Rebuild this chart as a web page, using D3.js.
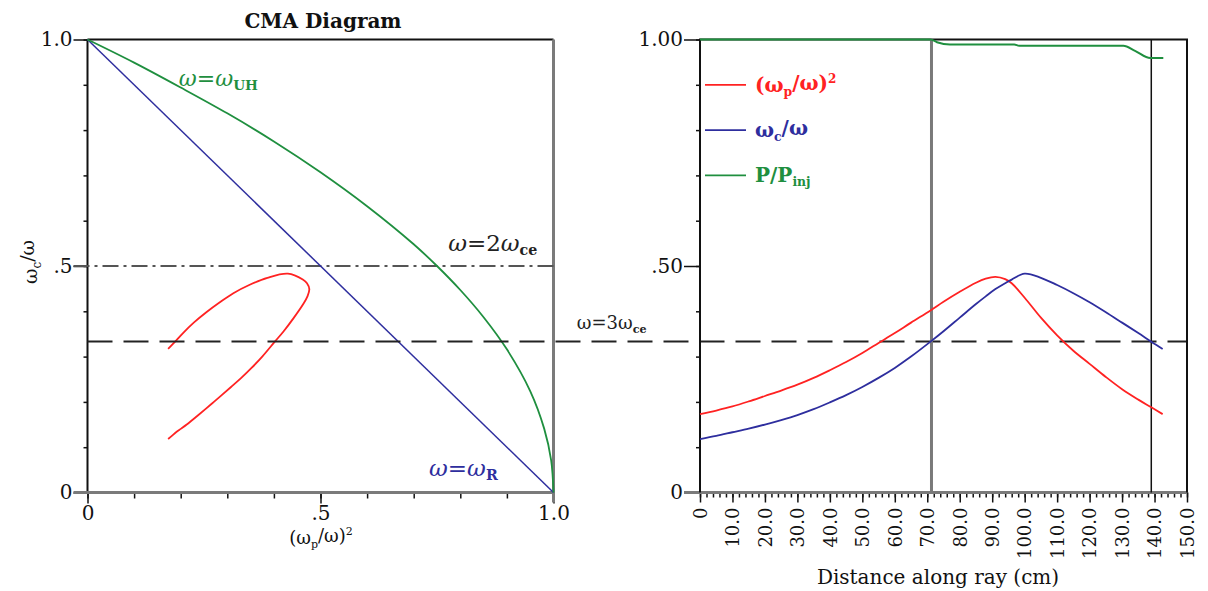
<!DOCTYPE html>
<html>
<head>
<meta charset="utf-8">
<script src="https://cdn.jsdelivr.net/npm/d3@7"></script>
<style>
  body { margin: 0; background: #fff; }
  svg { display: block; }
  text { font-family: "DejaVu Serif", "Liberation Serif", serif; }
</style>
</head>
<body>
<svg id="chart" width="1208" height="591"></svg>
<script>
// ray data
const rayDist = [0, 5, 10, 15, 20, 25, 30, 35, 40, 45, 50, 55, 60, 65, 71, 75, 80, 85, 88, 91, 94, 96, 100, 105, 110, 115, 120, 125, 130, 135, 139, 142.5];
const rayWpSq = [0.173, 0.181, 0.19, 0.201, 0.213, 0.225, 0.238, 0.253, 0.27, 0.288, 0.308, 0.33, 0.352, 0.375, 0.402, 0.421, 0.443, 0.463, 0.472, 0.476, 0.471, 0.462, 0.43, 0.386, 0.347, 0.313, 0.284, 0.255, 0.228, 0.205, 0.188, 0.173];
const rayWc = [0.118, 0.125, 0.133, 0.141, 0.15, 0.16, 0.171, 0.184, 0.199, 0.215, 0.233, 0.253, 0.275, 0.3, 0.333, 0.356, 0.386, 0.416, 0.433, 0.449, 0.462, 0.47, 0.483, 0.474, 0.458, 0.44, 0.42, 0.398, 0.375, 0.352, 0.333, 0.317];

// power fraction
const powDist = [0, 71, 73, 77, 96.8, 98.3, 130.4, 134, 138.7, 142.7];
const powFrac = [1, 1, 0.994, 0.989, 0.989, 0.986, 0.986, 0.975, 0.959, 0.959];

// CMA boundaries
const uhX = [0, 0.1, 0.2, 0.3, 0.4, 0.5, 0.6, 0.7, 0.75, 0.8, 0.85, 0.9, 0.95, 0.98, 0.995, 1.0];
const uhY = [1.0, 0.949, 0.894, 0.837, 0.775, 0.707, 0.632, 0.548, 0.5, 0.447, 0.387, 0.316, 0.224, 0.141, 0.071, 0.0];
const rX = [0, 1];
const rY = [1, 0];
const harm2 = 0.5;
const harm3 = 1 / 3;
const rayMarks = [71.3, 139];

const leftTicksX = [0, 0.5, 1];
const leftTickLabels = ["0", ".5", "1.0"];
const rightTicksY = [0, 0.5, 1];
const rightTickLabels = ["0", ".50", "1.00"];

const RED = "#ff2222", BLUE = "#2e2e9e", GREEN = "#1f8f3f", GRAY = "#7a7a7a";

const svg = d3.select("#chart");

const xL = d3.scaleLinear().domain([0, 1]).range([87.5, 553.5]);
const yL = d3.scaleLinear().domain([0, 1]).range([492.5, 39.5]);
const xR = d3.scaleLinear().domain([0, 150]).range([700, 1187]);
const yR = d3.scaleLinear().domain([0, 1]).range([492.5, 39.5]);

const minor01 = d3.range(0, 11).map(d => d / 10);

function styleAxis(g) {
  g.select(".domain").remove();
  g.selectAll("line").attr("stroke", "#111").attr("stroke-width", 1.5);
  g.selectAll("text").attr("fill", "#111").style("font-family", "'DejaVu Serif', serif");
}

// ---------- left panel ----------
const left = svg.append("g");

left.append("g").attr("transform", `translate(0,${yL(0)})`)
  .call(d3.axisBottom(xL).tickValues(minor01).tickSize(6).tickFormat(""))
  .call(styleAxis);
left.append("g").attr("transform", `translate(0,${yL(0)})`)
  .call(d3.axisBottom(xL).tickValues(leftTicksX).tickSize(11).tickPadding(2)
    .tickFormat((d, i) => leftTickLabels[i]))
  .call(styleAxis)
  .selectAll("text").style("font-size", "20px");

left.append("g").attr("transform", `translate(${xL(0)},0)`)
  .call(d3.axisLeft(yL).tickValues(minor01).tickSize(4).tickFormat(""))
  .call(styleAxis);
left.append("g").attr("transform", `translate(${xL(0)},0)`)
  .call(d3.axisLeft(yL).tickValues(leftTicksX).tickSize(14).tickPadding(1)
    .tickFormat((d, i) => leftTickLabels[i]))
  .call(styleAxis)
  .selectAll("text").style("font-size", "20px");

// frame
left.append("line").attr("x1", xL(0)).attr("x2", xL(1)).attr("y1", yL(1)).attr("y2", yL(1))
  .attr("stroke", "#111").attr("stroke-width", 2);
left.append("line").attr("x1", xL(0)).attr("x2", xL(0)).attr("y1", yL(1)).attr("y2", yL(0))
  .attr("stroke", "#111").attr("stroke-width", 2);
left.append("line").attr("x1", xL(0) - 14).attr("x2", xL(1)).attr("y1", yL(0)).attr("y2", yL(0))
  .attr("stroke", GRAY).attr("stroke-width", 3);
left.append("line").attr("x1", xL(1)).attr("x2", xL(1)).attr("y1", yL(1)).attr("y2", yL(0) + 10)
  .attr("stroke", GRAY).attr("stroke-width", 3);

// harmonic lines
left.append("line").attr("x1", xL(0) - 14).attr("x2", xL(1))
  .attr("y1", yL(harm2)).attr("y2", yL(harm2))
  .attr("stroke", "#555").attr("stroke-width", 1.8).attr("stroke-dasharray", "16,5,3,5");
svg.append("line").attr("x1", xL(0)).attr("x2", xR(150))
  .attr("y1", yL(harm3)).attr("y2", yL(harm3))
  .attr("stroke", "#222").attr("stroke-width", 2).attr("stroke-dasharray", "25,11");

const lineXY = (xs, ys, sx, sy, curve) => d3.line()
  .x(i => sx(xs[i])).y(i => sy(ys[i])).curve(curve || d3.curveLinear)(d3.range(xs.length));

left.append("path").attr("d", lineXY(rX, rY, xL, yL))
  .attr("fill", "none").attr("stroke", BLUE).attr("stroke-width", 1.5);
left.append("path").attr("d", lineXY(uhX, uhY, xL, yL, d3.curveCatmullRom))
  .attr("fill", "none").attr("stroke", GREEN).attr("stroke-width", 1.8);
left.append("path").attr("d", lineXY(rayWpSq, rayWc, xL, yL, d3.curveCatmullRom))
  .attr("fill", "none").attr("stroke", RED).attr("stroke-width", 1.8);

// labels
function omegaLabel(g, x, y, parts, color, size) {
  const t = g.append("text").attr("x", x).attr("y", y).attr("dy", "0.35em")
    .attr("fill", color).style("font-size", size + "px");
  parts.forEach(p => {
    const s = t.append("tspan").text(p.t);
    if (p.sub) s.attr("dy", "0.3em").style("font-size", (size * 0.62) + "px").style("font-weight", "bold");
    if (p.back) s.attr("dy", "-0.3em");
    if (p.sup) s.attr("dy", "-0.55em").style("font-size", (size * 0.6) + "px");
    if (p.it) s.style("font-style", "italic");
  });
  return t;
}

left.append("text").attr("x", 323).attr("y", 21).attr("dy", "0.35em")
  .attr("text-anchor", "middle").style("font-size", "20px").style("font-weight", "bold")
  .attr("fill", "#111").text("CMA Diagram");

omegaLabel(left, xL(0.196), yL(0.915), [{t: "ω", it: true}, {t: "="}, {t: "ω", it: true}, {t: "UH", sub: true}], GREEN, 22);
omegaLabel(left, xL(0.774), yL(0.551), [{t: "ω", it: true}, {t: "=2"}, {t: "ω", it: true}, {t: "ce", sub: true}], "#222", 23);
omegaLabel(svg, xL(1.05), yL(0.374), [{t: "ω=3ω"}, {t: "ce", sub: true}], "#222", 18);
omegaLabel(left, xL(0.733), yL(0.054), [{t: "ω", it: true}, {t: "="}, {t: "ω", it: true}, {t: "R", sub: true}], BLUE, 23);

// axis titles
const yt = left.append("text").attr("transform", `translate(30,262) rotate(-90)`)
  .attr("text-anchor", "middle").attr("dy", "0.35em").attr("fill", "#111").style("font-size", "19px");
yt.append("tspan").text("ω");
yt.append("tspan").text("c").attr("dy", "0.35em").style("font-size", "12px");
yt.append("tspan").text("/ω").attr("dy", "-0.35em");

const xt = left.append("text").attr("x", 321).attr("y", 538).attr("dy", "0.35em")
  .attr("text-anchor", "middle").attr("fill", "#111").style("font-size", "18px");
xt.append("tspan").text("(ω");
xt.append("tspan").text("p").attr("dy", "0.35em").style("font-size", "11px");
xt.append("tspan").text("/ω)").attr("dy", "-0.35em");
xt.append("tspan").text("2").attr("dy", "-0.6em").style("font-size", "11px");

// ---------- right panel ----------
const right = svg.append("g");

right.append("g").attr("transform", `translate(0,${yR(0)})`)
  .call(d3.axisBottom(xR).tickValues(d3.range(0, 151, 2)).tickSize(5).tickFormat(""))
  .call(styleAxis);
right.append("g").attr("transform", `translate(0,${yR(0)})`)
  .call(d3.axisBottom(xR).tickValues(d3.range(0, 151, 10)).tickSize(10)
    .tickFormat(d => d === 0 ? "0" : d.toFixed(1)))
  .call(styleAxis)
  .selectAll("text")
  .attr("transform", "rotate(-90)").attr("x", -15).attr("y", 0).attr("dy", "0.35em")
  .attr("text-anchor", "end").style("font-size", "18px");

right.append("g").attr("transform", `translate(${xR(0)},0)`)
  .call(d3.axisLeft(yR).tickValues(minor01).tickSize(4).tickFormat(""))
  .call(styleAxis);
right.append("g").attr("transform", `translate(${xR(0)},0)`)
  .call(d3.axisLeft(yR).tickValues(rightTicksY).tickSize(16).tickPadding(1)
    .tickFormat((d, i) => rightTickLabels[i]))
  .call(styleAxis)
  .selectAll("text").style("font-size", "20px");

right.append("line").attr("x1", xR(0) - 16).attr("x2", xR(150)).attr("y1", yR(0)).attr("y2", yR(0))
  .attr("stroke", GRAY).attr("stroke-width", 3);
right.append("path")
  .attr("d", `M${xR(0)},${yR(0)}V${yR(1)}H${xR(150)}V${yR(0)}`)
  .attr("fill", "none").attr("stroke", "#111").attr("stroke-width", 2);

right.selectAll(".mark").data(rayMarks).enter().append("line")
  .attr("x1", d => xR(d)).attr("x2", d => xR(d))
  .attr("y1", yR(1)).attr("y2", yR(0))
  .attr("stroke", (d, i) => i === 0 ? GRAY : "#111")
  .attr("stroke-width", (d, i) => i === 0 ? 3 : 1.5);

right.append("path").attr("d", lineXY(rayDist, rayWpSq, xR, yR, d3.curveCatmullRom))
  .attr("fill", "none").attr("stroke", RED).attr("stroke-width", 1.8);
right.append("path").attr("d", lineXY(rayDist, rayWc, xR, yR, d3.curveCatmullRom))
  .attr("fill", "none").attr("stroke", BLUE).attr("stroke-width", 1.8);
right.append("path").attr("d", lineXY(powDist, powFrac, xR, yR, d3.curveMonotoneX))
  .attr("fill", "none").attr("stroke", GREEN).attr("stroke-width", 2);

// legend
const legendRows = [
  {y: 0.9, color: RED, parts: [{t: "(ω"}, {t: "p", sub: true}, {t: "/ω)", back: true}, {t: "2", sup: true}]},
  {y: 0.8, color: BLUE, parts: [{t: "ω"}, {t: "c", sub: true}, {t: "/ω", back: true}]},
  {y: 0.7, color: GREEN, parts: [{t: "P/P"}, {t: "inj", sub: true}]}
];
legendRows.forEach(r => {
  right.append("line").attr("x1", 705).attr("x2", 746)
    .attr("y1", yR(r.y)).attr("y2", yR(r.y))
    .attr("stroke", r.color).attr("stroke-width", 1.8);
  omegaLabel(right, 755, yR(r.y), r.parts, r.color, 20).style("font-weight", "bold");
});

right.append("text").attr("x", 938).attr("y", 577).attr("dy", "0.35em")
  .attr("text-anchor", "middle").attr("fill", "#111").style("font-size", "20px")
  .text("Distance along ray (cm)");
</script>
</body>
</html>
